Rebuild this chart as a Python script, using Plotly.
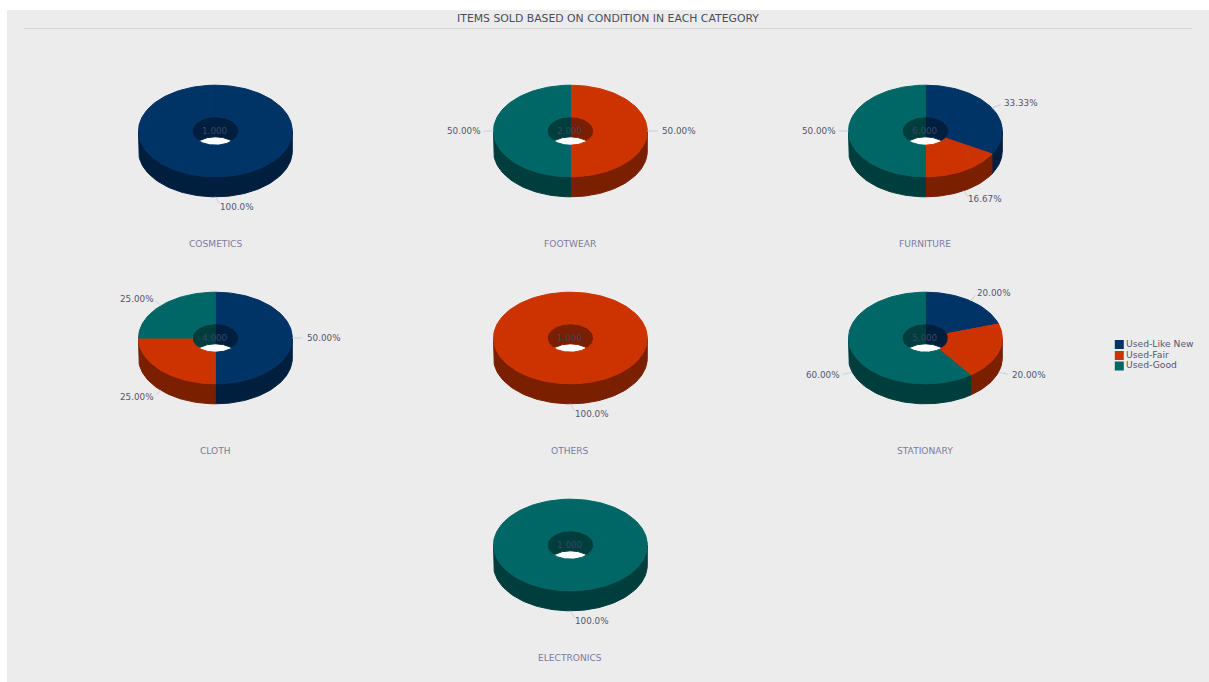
import math
import plotly.graph_objects as go

# ---- data ----
categories = ["COSMETICS", "FOOTWEAR", "FURNITURE", "CLOTH", "OTHERS", "STATIONARY", "ELECTRONICS"]
series_names = ["Used-Like New", "Used-Fair", "Used-Good"]
used_like_new = [1, 0, 2, 2, 0, 1, 0]
used_fair = [0, 1, 1, 1, 1, 1, 0]
used_good = [0, 1, 3, 1, 0, 3, 1]
title_text = "ITEMS SOLD BASED ON CONDITION IN EACH CATEGORY"

# ---- layout and style ----
W, H = 1209, 682
CENTERS = [(215.4, 131), (570.4, 131), (925.4, 131), (215.4, 338), (570.4, 338), (925.4, 338), (570.4, 545)]
RX, RY, HX, HY, DEPTH = 76.9, 45.8, 23.2, 14.2, 20
TOP = ["#003366", "#cc3300", "#006666"]
SIDE = ["#001f3f", "#7a1f00", "#003d3d"]
FONT = "DejaVu Sans"
TEXT = "#55566e"
CAT = "#7b7ba3"
LEADER = "#c6d0de"


def pts(cx, cy, rx, ry, a, b, dy=0):
    n = max(2, int(abs(b - a) / 2) + 1)
    xs, ys = [], []
    for i in range(n + 1):
        t = math.radians(a + (b - a) * i / n)
        xs.append(cx + rx * math.sin(t))
        ys.append(cy - ry * math.cos(t) + dy)
    return xs, ys


def poly(fig, xs, ys, color, name):
    fig.add_trace(go.Scatter(
        x=xs + xs[:1], y=ys + ys[:1], mode="lines", fill="toself", fillcolor=color,
        line=dict(color=color, width=1), name=name, hoverinfo="name", showlegend=False,
    ))


fig = go.Figure()

for i, cat in enumerate(categories):
    cx, cy = CENTERS[i]
    vals = [used_like_new[i], used_fair[i], used_good[i]]
    total = sum(vals)

    # see-through part of the hole
    hx, hy = pts(cx, cy, HX, HY, 0, 360)
    poly(fig, hx, hy, "#ffffff", cat)

    spans = []
    start = 0.0
    for k, v in enumerate(vals):
        if v:
            end = start + 360.0 * v / total
            spans.append((k, start, end, v))
            start = end

    for k, a, b, v in spans:
        label = f"{cat} - {series_names[k]}"
        # inner wall, back half of the hole
        for lo, hi in ((0, 90), (270, 360)):
            a2, b2 = max(a, lo), min(b, hi)
            if b2 > a2:
                x1, y1 = pts(cx, cy, HX, HY, a2, b2)
                x2, y2 = pts(cx, cy, HX, HY, b2, a2, DEPTH)
                poly(fig, x1 + x2, y1 + y2, SIDE[k], label)
        # outer wall, front half
        a2, b2 = max(a, 90), min(b, 270)
        if b2 > a2:
            x1, y1 = pts(cx, cy, RX, RY, a2, b2)
            x2, y2 = pts(cx, cy, RX, RY, b2, a2, DEPTH)
            poly(fig, x1 + x2, y1 + y2, SIDE[k], label)

    for k, a, b, v in spans:
        x1, y1 = pts(cx, cy, RX, RY, a, b)
        x2, y2 = pts(cx, cy, HX, HY, b, a)
        poly(fig, x1 + x2, y1 + y2, TOP[k], f"{cat} - {series_names[k]}")

    # leader lines and percentage labels
    for k, a, b, v in spans:
        mid = (a + b) / 2
        s, c = math.sin(math.radians(mid)), math.cos(math.radians(mid))
        x0 = cx + RX * s
        y0 = cy - RY * c + (DEPTH if c < -1e-6 else 0)
        if abs(s) < 1e-6:
            s = 0.5
        side = 1 if s > 0 else -1
        gap = 20 * abs(s) - (7.5 if s > 0 else 9)
        x1 = x0 + s * 10
        y1 = y0 - c * 7
        share = 100.0 * v / total
        txt = "100.0%" if v == total else f"{share:.2f}%"
        fig.add_trace(go.Scatter(
            x=[x0, x1 if abs(s) > 0.8 else x0 + s * 8], y=[y0, y1], mode="lines",
            line=dict(color=LEADER, width=1), hoverinfo="skip", showlegend=False,
        ))
        fig.add_annotation(
            x=x0 + side * gap, y=y0 - c * 10, text=txt, showarrow=False,
            xanchor="left" if s > 0 else "right", yanchor="middle",
            font=dict(family=FONT, size=8.8, color=TEXT),
        )

    fig.add_annotation(x=cx, y=cy, text=f"{total:.3f}", showarrow=False,
                       font=dict(family=FONT, size=8.8, color="#3b4560"))
    fig.add_annotation(x=cx, y=cy + 113, text=cat, showarrow=False,
                       font=dict(family=FONT, size=9.1, color=CAT))

# legend
legend_y = [344.5, 355.5, 366]
fig.add_trace(go.Scatter(
    x=[1119.3] * 3, y=legend_y, mode="markers",
    marker=dict(symbol="square", size=9, color=TOP),
    hovertext=series_names, hoverinfo="text", showlegend=False,
))
fig.add_trace(go.Scatter(
    x=[1126] * 3, y=legend_y, mode="text",
    text=series_names, textposition="middle right",
    textfont=dict(family=FONT, size=9.2, color=TEXT),
    hoverinfo="skip", showlegend=False,
))

fig.update_layout(
    width=W, height=H, margin=dict(l=0, r=0, t=0, b=0),
    paper_bgcolor="#ffffff", plot_bgcolor="#ffffff", showlegend=False,
    title=dict(text=title_text, x=608 / W, xanchor="center", xref="paper",
               y=1 - 18.5 / H, yanchor="middle", yref="container",
               font=dict(family=FONT, size=10.85, color="#4a4d5e")),
    xaxis=dict(range=[0, W], visible=False, fixedrange=True),
    yaxis=dict(range=[H, 0], visible=False, fixedrange=True),
    shapes=[
        dict(type="rect", x0=7, x1=W, y0=10, y1=H, fillcolor="#ececec", line_width=0, layer="below"),
        dict(type="line", x0=24, x1=1192, y0=28.5, y1=28.5, line=dict(color="#d3d3da", width=1), layer="below"),
    ],
)

fig.write_html("out.html", config={"displayModeBar": False},
               post_script="document.body.style.margin='0';document.body.style.overflow='hidden';")
